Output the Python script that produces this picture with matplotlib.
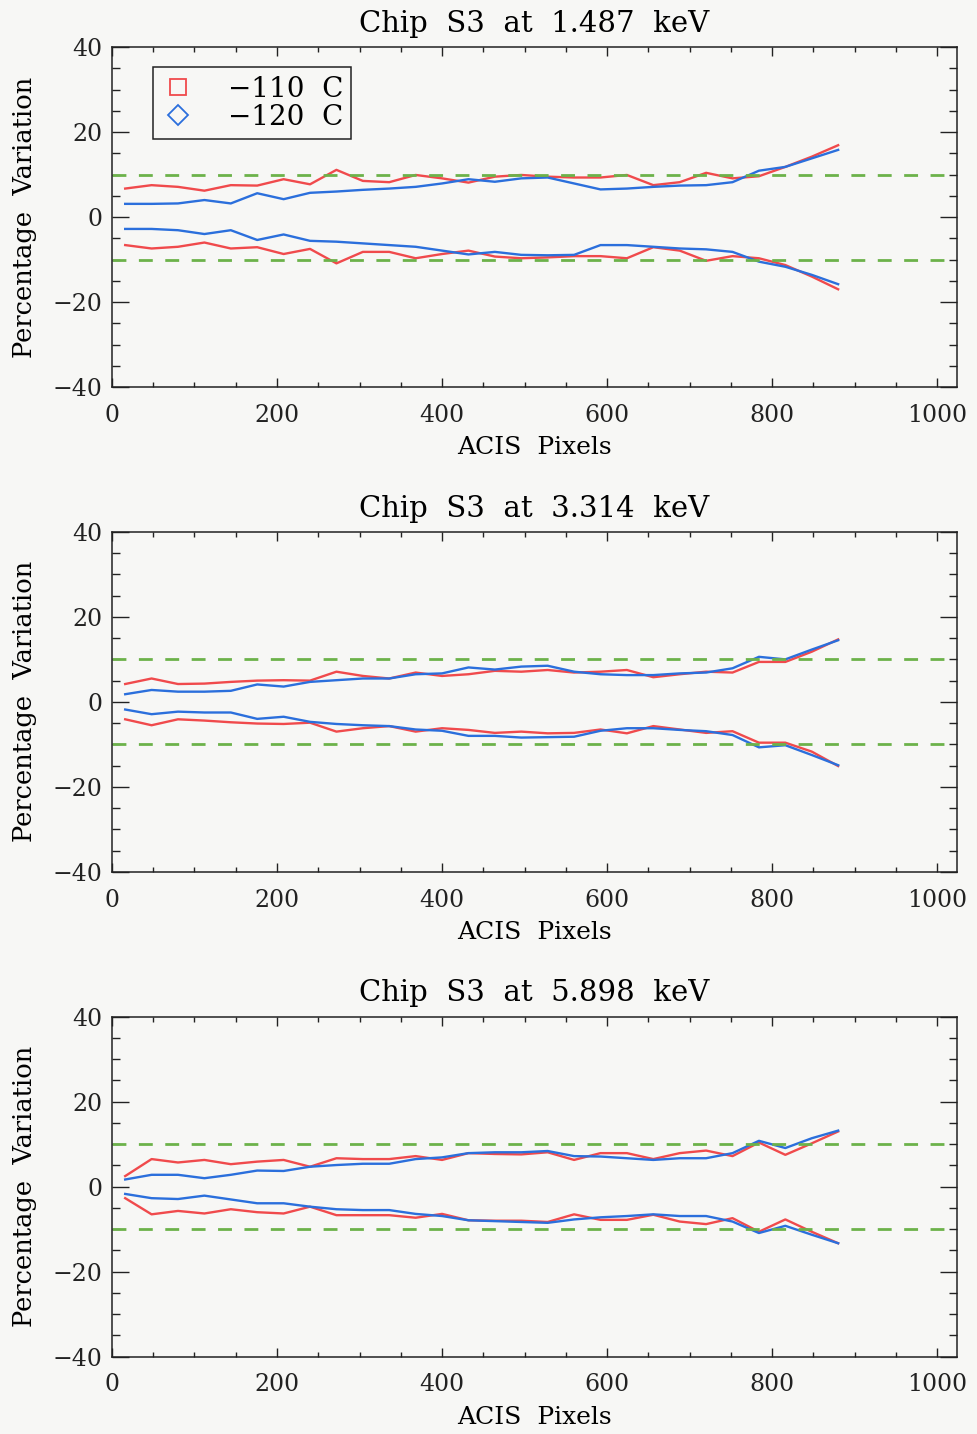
import numpy as np
import matplotlib
matplotlib.use('Agg')
import matplotlib.pyplot as plt
from matplotlib.ticker import MultipleLocator
from matplotlib.lines import Line2D

# ACIS pixel bin centres (32-pixel bins)
pixels = [16, 48, 80, 112, 144, 176, 208, 240, 272, 304, 336, 368, 400, 432,
          464, 496, 528, 560, 592, 624, 656, 688, 720, 752, 784, 816, 848, 880]

titles = ['Chip  S3  at  1.487  keV', 'Chip  S3  at  3.314  keV', 'Chip  S3  at  5.898  keV']

# 1.487 keV
red_hi_1 = [6.7, 7.5, 7.1, 6.2, 7.5, 7.4, 8.9, 7.7, 11.1, 8.5, 8.2, 9.9, 9.1, 8.1,
            9.5, 9.9, 9.5, 9.3, 9.3, 9.9, 7.5, 8.2, 10.4, 9.1, 9.6, 11.8, 14.2, 16.9]
red_lo_1 = [-6.6, -7.4, -7.0, -6.0, -7.4, -7.1, -8.7, -7.5, -10.9, -8.2, -8.2, -9.7, -8.7, -7.9,
            -9.3, -9.7, -9.5, -9.2, -9.2, -9.7, -7.1, -7.9, -10.3, -9.2, -9.7, -11.3, -14.0, -17.0]
blue_hi_1 = [3.1, 3.1, 3.2, 4.0, 3.2, 5.6, 4.2, 5.7, 6.0, 6.4, 6.7, 7.1, 7.9, 8.9,
             8.3, 9.1, 9.3, 7.9, 6.5, 6.7, 7.1, 7.4, 7.5, 8.2, 10.9, 11.8, 13.8, 15.8]
blue_lo_1 = [-2.8, -2.8, -3.1, -4.0, -3.1, -5.4, -4.1, -5.6, -5.8, -6.2, -6.6, -7.0, -7.9, -8.8,
             -8.2, -8.9, -9.0, -8.9, -6.6, -6.6, -7.0, -7.4, -7.6, -8.2, -10.5, -11.7, -13.6, -15.8]

# 3.314 keV
red_hi_2 = [4.2, 5.5, 4.2, 4.3, 4.7, 5.0, 5.1, 5.0, 7.1, 6.1, 5.5, 6.9, 6.1, 6.5,
            7.3, 7.1, 7.5, 6.9, 7.1, 7.5, 5.8, 6.5, 7.1, 6.9, 9.4, 9.4, 11.8, 14.7]
red_lo_2 = [-4.1, -5.5, -4.1, -4.4, -4.8, -5.1, -5.2, -4.9, -7.0, -6.2, -5.7, -7.0, -6.2, -6.6,
            -7.3, -7.0, -7.4, -7.3, -6.5, -7.4, -5.7, -6.5, -7.3, -6.9, -9.6, -9.6, -11.7, -15.1]
blue_hi_2 = [1.8, 2.8, 2.4, 2.4, 2.6, 4.1, 3.6, 4.7, 5.1, 5.5, 5.5, 6.5, 6.7, 8.1,
             7.6, 8.3, 8.5, 7.1, 6.5, 6.3, 6.3, 6.7, 6.9, 7.9, 10.6, 10.0, 12.3, 14.5]
blue_lo_2 = [-1.8, -2.9, -2.3, -2.5, -2.5, -4.0, -3.5, -4.7, -5.2, -5.5, -5.7, -6.5, -6.8, -8.0,
             -8.0, -8.4, -8.3, -8.2, -6.8, -6.2, -6.2, -6.6, -6.9, -7.8, -10.7, -10.2, -12.5, -14.9]

# 5.898 keV
red_hi_3 = [2.5, 6.5, 5.7, 6.3, 5.3, 5.9, 6.3, 4.7, 6.7, 6.5, 6.5, 7.2, 6.3, 7.9,
            7.7, 7.6, 8.1, 6.3, 7.9, 7.9, 6.5, 7.9, 8.5, 7.2, 10.4, 7.5, 10.2, 13.0]
red_lo_3 = [-2.7, -6.5, -5.7, -6.3, -5.3, -6.0, -6.3, -4.7, -6.7, -6.7, -6.7, -7.3, -6.4, -7.9,
            -8.0, -8.0, -8.3, -6.5, -7.8, -7.8, -6.6, -8.2, -8.8, -7.4, -10.6, -7.7, -10.6, -13.3]
blue_hi_3 = [1.7, 2.8, 2.8, 2.0, 2.8, 3.8, 3.7, 4.7, 5.1, 5.4, 5.4, 6.5, 6.9, 7.9,
             8.1, 8.1, 8.4, 7.2, 7.1, 6.7, 6.3, 6.7, 6.7, 7.9, 10.8, 9.1, 11.4, 13.2]
blue_lo_3 = [-1.7, -2.7, -2.9, -2.1, -3.0, -3.9, -3.9, -4.7, -5.3, -5.5, -5.5, -6.4, -6.9, -7.9,
             -8.1, -8.3, -8.5, -7.7, -7.2, -6.9, -6.5, -6.9, -6.9, -8.2, -10.9, -9.2, -11.3, -13.3]

red_sets = [(red_hi_1, red_lo_1), (red_hi_2, red_lo_2), (red_hi_3, red_lo_3)]
blue_sets = [(blue_hi_1, blue_lo_1), (blue_hi_2, blue_lo_2), (blue_hi_3, blue_lo_3)]
limit = 10
legend_labels = ['\u2212110  C', '\u2212120  C']

RED = '#f04a4c'
BLUE = '#2b6fdc'
GREEN = '#6cb24a'
BG = '#f7f7f5'

plt.rcParams['font.family'] = 'DejaVu Serif'

fig = plt.figure(figsize=(9.78, 14.34), dpi=100, facecolor=BG)
bottoms = [0.7301, 0.392, 0.0539]

for i in range(3):
    ax = fig.add_axes([0.1145, bottoms[i], 0.864, 0.2371], facecolor=BG)
    hi, lo = red_sets[i]
    ax.plot(pixels, hi, color=RED, lw=1.7)
    ax.plot(pixels, lo, color=RED, lw=1.7)
    hi, lo = blue_sets[i]
    ax.plot(pixels, hi, color=BLUE, lw=1.7)
    ax.plot(pixels, lo, color=BLUE, lw=1.7)
    for v in (limit, -limit):
        ax.axhline(v, color=GREEN, lw=2.0, dashes=(5, 4.5))

    ax.set_xlim(0, 1024)
    ax.set_ylim(-40, 40)
    ax.xaxis.set_major_locator(MultipleLocator(200))
    ax.xaxis.set_minor_locator(MultipleLocator(50))
    ax.yaxis.set_major_locator(MultipleLocator(20))
    ax.yaxis.set_minor_locator(MultipleLocator(5))
    ax.tick_params(which='both', direction='in', top=True, right=True, width=1.0,
                   labelsize=17, colors='#222222')
    ax.tick_params(axis='x', which='major', length=6.5, pad=12)
    ax.tick_params(axis='x', which='minor', length=3.5)
    ax.tick_params(axis='y', which='major', length=12, pad=7)
    ax.tick_params(axis='y', which='minor', length=6)
    for s in ax.spines.values():
        s.set_linewidth(1.1)
        s.set_color('#222222')

    ax.set_title(titles[i], fontsize=21, pad=11)
    ax.set_xlabel('ACIS  Pixels', fontsize=18, labelpad=7)
    ax.set_ylabel('Percentage  Variation', fontsize=18.5, labelpad=11)

    if i == 0:
        handles = [Line2D([], [], ls='none', marker='s', ms=12, mfc='none', mec=RED, mew=1.3),
                   Line2D([], [], ls='none', marker='D', ms=10, mfc='none', mec=BLUE, mew=1.3)]
        leg = ax.legend(handles, legend_labels, loc='upper left', bbox_to_anchor=(0.048, 0.94),
                        borderaxespad=0, fontsize=20, fancybox=False, framealpha=1,
                        edgecolor='#222222', facecolor=BG, handletextpad=1.2,
                        labelspacing=0.05, borderpad=0.3, handlelength=1.2)
        leg.get_frame().set_linewidth(1.1)

fig.savefig('out.png', dpi=100, facecolor=BG)
